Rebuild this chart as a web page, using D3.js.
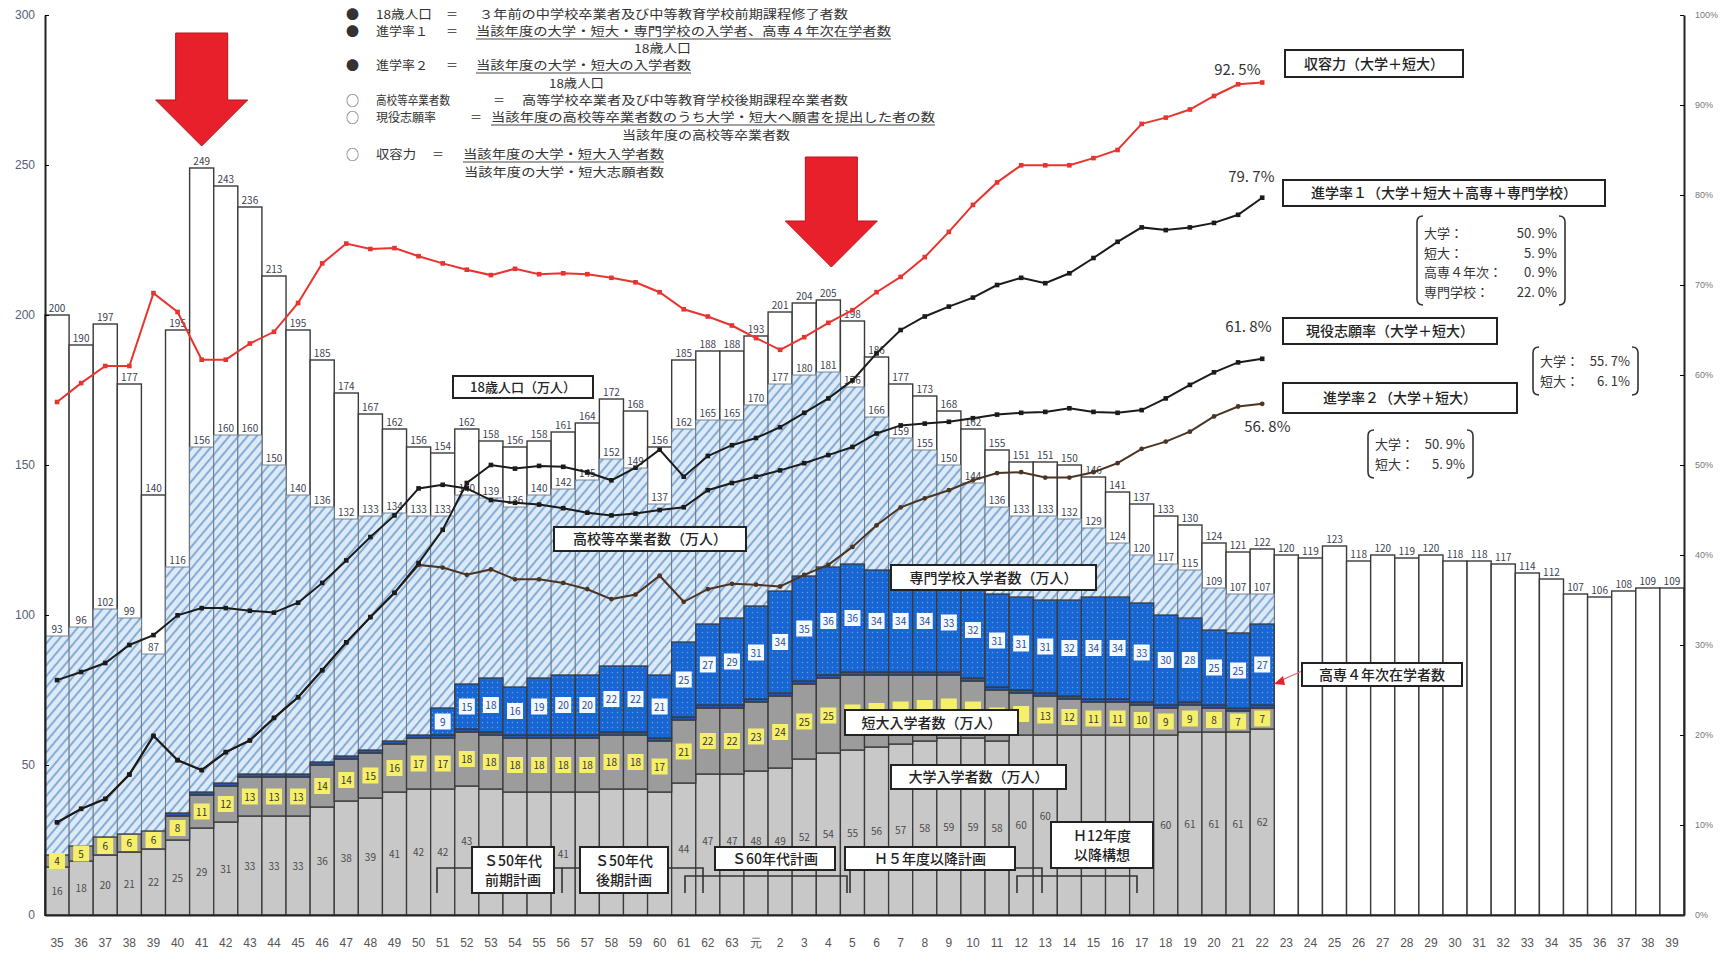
<!DOCTYPE html>
<html lang="ja">
<head>
<meta charset="utf-8">
<script src="https://cdn.jsdelivr.net/npm/d3@7"></script>
<style>
  html, body { margin: 0; padding: 0; background: #fff; }
  svg { display: block; font-family: "Noto Sans CJK JP", "Noto Sans", sans-serif; }
</style>
</head>
<body>
<div id="chart"></div>
<script>
// year labels (昭和35 ... 平成39)
var yearLabels = ["35","36","37","38","39","40","41","42","43","44","45","46","47","48","49","50",
  "51","52","53","54","55","56","57","58","59","60","61","62","63","元",
  "2","3","4","5","6","7","8","9","10","11","12","13","14","15","16","17","18","19","20","21","22",
  "23","24","25","26","27","28","29","30","31","32","33","34","35","36","37","38","39"];

// 18歳人口 (万人)
var pop18 = [200,190,197,177,140,195,249,243,236,213,195,185,174,167,162,156,
  154,162,158,156,158,161,164,172,168,156,185,188,188,193,
  201,204,205,198,186,177,173,168,162,155,151,151,150,146,141,137,133,130,124,121,122,
  120,119,123,118,120,119,120,118,118,117,114,112,107,106,108,109,109];

// 高校等卒業者数 (万人) S35-H22
var hsGrad = [93,96,102,99,87,116,156,160,160,150,140,136,132,133,134,133,
  133,140,139,136,140,142,145,152,149,137,162,165,165,170,
  177,180,181,176,166,159,155,150,144,136,133,133,132,129,124,120,117,115,109,107,107];

// 大学入学者数 (万人)
var univ = [16,18,20,21,22,25,29,31,33,33,33,36,38,39,41,42,
  42,43,42,41,41,41,41,42,42,41,44,47,47,48,
  49,52,54,55,56,57,58,59,59,58,60,60,60,60,60,60,60,61,61,61,62];

// 短大入学者数 (万人)
var juniorCollege = [4,5,6,6,6,8,11,12,13,13,13,14,14,15,16,17,
  17,18,18,18,18,18,18,18,18,17,21,22,22,23,
  24,25,25,25,24,23,22,21,19,17,14,13,12,11,11,10,9,9,8,7,7];

// 高専4年次在学者数 (万人)
var kosen4 = [0,0,0,0,0,1,1,1,1,1,1,1,1,1,1,1,
  1,1,1,1,1,1,1,1,1,1,1,1,1,1,
  1,1,1,1,1,1,1,1,1,1,1,1,1,1,1,1,1,1,1,1,1];

// 専門学校入学者数 (万人)
var senmon = [0,0,0,0,0,0,0,0,0,0,0,0,0,0,0,0,
  9,15,18,16,19,20,20,22,22,21,25,27,29,31,
  34,35,36,36,34,34,34,33,32,31,31,31,32,34,34,33,30,28,25,25,27];

// 収容力 (%)
var capacityRate = [57.0,59.1,61.0,61.0,69.1,67.0,61.7,61.7,63.5,64.8,68.0,72.4,74.6,74.0,74.1,73.2,
  72.4,71.7,71.1,71.8,71.2,71.3,71.2,70.8,70.3,69.2,67.3,66.5,65.5,64.1,
  62.8,64.2,65.8,67.2,69.2,70.9,73.1,75.9,78.9,81.4,83.3,83.3,83.3,84.1,85.0,87.9,88.6,89.5,91.0,92.3,92.5];

// 進学率1 (%)
var rate1 = [10.3,11.8,12.9,15.6,19.9,17.2,16.1,18.1,19.4,21.9,24.2,27.2,30.3,33.1,35.8,39.1,
  42.8,48.0,50.0,49.6,49.9,49.8,49.2,48.3,49.7,51.7,48.7,51.0,52.2,53.0,
  54.2,55.8,57.4,59.4,62.4,65.0,66.5,67.6,68.6,70.0,70.8,70.2,71.3,73.0,74.8,76.4,76.1,76.4,76.9,77.8,79.7];

// 現役志願率 (%)
var appRate = [26.1,27.0,28.0,30.0,31.1,33.3,34.1,34.1,33.8,33.6,34.7,36.9,39.4,42.0,44.4,47.4,
  47.8,47.4,46.1,45.8,45.6,45.2,44.7,44.4,44.6,45.0,45.3,47.2,48.0,48.7,
  49.4,50.2,51.1,52.0,53.5,54.4,54.6,54.8,55.2,55.6,55.8,55.9,56.3,55.9,55.8,56.1,57.4,58.9,60.3,61.4,61.8];

// 進学率2 (%) - runs under 進学率1 until S50
var rate2 = [10.3,11.8,12.9,15.6,19.9,17.2,16.1,18.1,19.4,21.9,24.2,27.2,30.3,33.1,35.8,38.9,
  38.6,37.8,38.4,37.3,37.3,36.9,36.2,35.1,35.6,37.7,34.8,36.2,36.8,36.7,
  36.5,37.8,38.9,40.9,43.3,45.3,46.3,47.2,48.3,49.1,49.2,48.6,48.6,49.2,50.2,51.8,52.6,53.7,55.4,56.5,56.8];

var leftTicks = [0,50,100,150,200,250,300];
var rightTicks = [0,10,20,30,40,50,60,70,80,90,100];

var width = 1720, height = 959;
var plot = {left: 45, right: 1684, top: 15, bottom: 915};

// annotation boxes (drawn last, also used to skip hidden labels)
var boxes = [
  {x: 1285, y: 50, w: 178, h: 27, lines: ["収容力（大学＋短大）"], fs: 14},
  {x: 1283, y: 180, w: 322, h: 26, lines: ["進学率１（大学＋短大＋高専＋専門学校）"], fs: 14},
  {x: 1283, y: 318, w: 214, h: 26, lines: ["現役志願率（大学＋短大）"], fs: 14},
  {x: 1283, y: 383, w: 234, h: 30, lines: ["進学率２（大学＋短大）"], fs: 14},
  {x: 453, y: 376, w: 140, h: 22, lines: ["18歳人口（万人）"], fs: 13},
  {x: 554, y: 527, w: 192, h: 24, lines: ["高校等卒業者数（万人）"], fs: 14},
  {x: 891, y: 565, w: 205, h: 25, lines: ["専門学校入学者数（万人）"], fs: 14},
  {x: 845, y: 710, w: 173, h: 25, lines: ["短大入学者数（万人）"], fs: 14},
  {x: 891, y: 765, w: 175, h: 24, lines: ["大学入学者数（万人）"], fs: 14},
  {x: 472, y: 847, w: 82, h: 46, lines: ["Ｓ50年代", "前期計画"], fs: 14},
  {x: 580, y: 847, w: 88, h: 46, lines: ["Ｓ50年代", "後期計画"], fs: 14},
  {x: 715, y: 847, w: 120, h: 23, lines: ["Ｓ60年代計画"], fs: 14},
  {x: 845, y: 847, w: 170, h: 23, lines: ["Ｈ５年度以降計画"], fs: 14},
  {x: 1051, y: 822, w: 102, h: 46, lines: ["Ｈ12年度", "以降構想"], fs: 14},
  {x: 1302, y: 663, w: 160, h: 23, lines: ["高専４年次在学者数"], fs: 14}
];
var hidden = function(px, py, mx, my) {
  return boxes.some(function(b) {
    return px > b.x - mx && px < b.x + b.w + mx && py > b.y - my && py < b.y + b.h + my;
  });
};
// keep a label baseline just above any box whose top it would touch
var aboveBoxes = function(px, base) {
  boxes.forEach(function(b) {
    if (px > b.x - 8 && px < b.x + b.w + 8 && base > b.y - 2 && base - 9 < b.y + b.h) base = b.y - 2;
  });
  return base;
};

var svg = d3.select("#chart").append("svg")
    .attr("width", width)
    .attr("height", height);

var x = d3.scaleBand()
    .domain(d3.range(yearLabels.length))
    .range([plot.left, plot.right])
    .padding(0);
var bw = x.bandwidth();
var cx = function(i) { return x(i) + bw / 2; };

var y = d3.scaleLinear().domain([0, 300]).range([plot.bottom, plot.top]);
var yr = d3.scaleLinear().domain([0, 100]).range([plot.bottom, plot.top]);

// patterns
var defs = svg.append("defs");
var hatch = defs.append("pattern")
    .attr("id", "hatch")
    .attr("patternUnits", "userSpaceOnUse")
    .attr("width", 7).attr("height", 7)
    .attr("patternTransform", "rotate(40)");
hatch.append("rect").attr("width", 7).attr("height", 7).attr("fill", "#dce9f6");
hatch.append("line")
    .attr("x1", 1).attr("y1", 0).attr("x2", 1).attr("y2", 7)
    .attr("stroke", "#7ba6d4").attr("stroke-width", 1.8);

var dots = defs.append("pattern")
    .attr("id", "dots")
    .attr("patternUnits", "userSpaceOnUse")
    .attr("width", 5).attr("height", 5);
dots.append("rect").attr("width", 5).attr("height", 5).attr("fill", "#1866d2");
dots.append("circle").attr("cx", 2.5).attr("cy", 2.5).attr("r", 0.7).attr("fill", "#6e9fe6");

var chart = svg.append("g");

// 18歳人口 bars (white)
chart.selectAll("rect.pop")
    .data(d3.range(pop18.length))
    .join("rect")
    .attr("class", "pop")
    .attr("x", function(i) { return x(i); })
    .attr("y", function(i) { return y(pop18[i]); })
    .attr("width", bw)
    .attr("height", function(i) { return y(0) - y(pop18[i]); })
    .attr("fill", "#fff")
    .attr("stroke", "#3a3a3a")
    .attr("stroke-width", 1.4);

// 高校等卒業者数 (hatched)
chart.selectAll("rect.hs")
    .data(d3.range(hsGrad.length))
    .join("rect")
    .attr("class", "hs")
    .attr("x", function(i) { return x(i); })
    .attr("y", function(i) { return y(hsGrad[i]); })
    .attr("width", bw)
    .attr("height", function(i) { return y(0) - y(hsGrad[i]); })
    .attr("fill", "url(#hatch)")
    .attr("stroke", "#6a7a8a")
    .attr("stroke-width", 0.9);

// entrants stack
var stackRows = d3.range(univ.length).map(function(i) {
  return {i: i, univ: univ[i], jc: juniorCollege[i], kosen: kosen4[i], senmon: senmon[i]};
});
var keys = ["univ", "jc", "kosen", "senmon"];
var fills = {univ: "#c8c8c8", jc: "#9c9c9c", kosen: "#2458b0", senmon: "url(#dots)"};
var series = d3.stack().keys(keys)(stackRows);

chart.selectAll("g.layer")
    .data(series)
    .join("g")
    .attr("class", "layer")
    .attr("fill", function(s) { return fills[s.key]; })
    .selectAll("rect")
    .data(function(s) { return s.filter(function(d) { return d[1] > d[0]; }); })
    .join("rect")
    .attr("x", function(d) { return x(d.data.i); })
    .attr("y", function(d) { return y(d[1]); })
    .attr("width", bw)
    .attr("height", function(d) { return y(d[0]) - y(d[1]); })
    .attr("stroke", "#3a3a3a")
    .attr("stroke-width", 1.3);

// value labels
var lab = svg.append("g").attr("font-size", 10).attr("text-anchor", "middle");

lab.selectAll("text.pop")
    .data(d3.range(pop18.length))
    .join("text")
    .attr("x", cx)
    .attr("y", function(i) { return y(pop18[i]) - 3; })
    .attr("fill", "#3b4250")
    .text(function(i) { return pop18[i]; });

lab.selectAll("text.hs")
    .data(d3.range(hsGrad.length))
    .join("text")
    .attr("x", cx)
    .attr("y", function(i) { return y(hsGrad[i]) - 3; })
    .attr("fill", "#3b4250")
    .text(function(i) { return hsGrad[i]; });

var univMid = function(i) { return y(univ[i] / 2); };
lab.selectAll("text.univ")
    .data(d3.range(univ.length).filter(function(i) { return !hidden(cx(i), univMid(i), 0, -2); }))
    .join("text")
    .attr("x", cx)
    .attr("y", function(i) { return aboveBoxes(cx(i), univMid(i) + 4); })
    .attr("fill", "#4a4a4a")
    .text(function(i) { return univ[i]; });

// 短大 yellow boxes
var jcMid = function(i) { return y(univ[i] + juniorCollege[i] / 2); };
lab.selectAll("rect.jc")
    .data(d3.range(juniorCollege.length))
    .join("rect")
    .attr("x", function(i) { return cx(i) - 8; })
    .attr("y", function(i) { return jcMid(i) - 8; })
    .attr("width", 16).attr("height", 16)
    .attr("fill", "#f6ef6c");
lab.selectAll("text.jc")
    .data(d3.range(juniorCollege.length).filter(function(i) { return !hidden(cx(i), jcMid(i), 6, 4); }))
    .join("text")
    .attr("x", cx)
    .attr("y", function(i) { return jcMid(i) + 4; })
    .attr("fill", "#333")
    .text(function(i) { return juniorCollege[i]; });

// 専門学校 white boxes
var smIdx = d3.range(senmon.length).filter(function(i) { return senmon[i] > 0; });
var smMid = function(i) { return y(univ[i] + juniorCollege[i] + kosen4[i] + senmon[i] / 2); };
lab.selectAll("rect.sm")
    .data(smIdx)
    .join("rect")
    .attr("x", function(i) { return cx(i) - 8; })
    .attr("y", function(i) { return smMid(i) - 8; })
    .attr("width", 16).attr("height", 16)
    .attr("fill", "#f4f8ff");
lab.selectAll("text.sm")
    .data(smIdx)
    .join("text")
    .attr("x", cx)
    .attr("y", function(i) { return smMid(i) + 4; })
    .attr("fill", "#1d4d9c")
    .text(function(i) { return senmon[i]; });

// axes
var axisLeft = svg.append("g")
    .attr("transform", "translate(" + plot.left + ",0)")
    .call(d3.axisLeft(y).tickValues(leftTicks).tickSizeInner(-4).tickSizeOuter(0).tickPadding(10));
axisLeft.select(".domain").attr("stroke", "#222").attr("stroke-width", 2);
axisLeft.selectAll("text").attr("font-size", 12).attr("fill", "#56607a");

var axisRight = svg.append("g")
    .attr("transform", "translate(" + plot.right + ",0)")
    .call(d3.axisRight(yr).tickValues(rightTicks).tickFormat(function(d) { return d + "%"; })
      .tickSizeInner(-4).tickSizeOuter(0).tickPadding(11));
axisRight.select(".domain").attr("stroke", "#222").attr("stroke-width", 2);
axisRight.selectAll("text").attr("font-size", 9).attr("fill", "#777");

var axisBottom = svg.append("g")
    .attr("transform", "translate(0," + plot.bottom + ")")
    .call(d3.axisBottom(x).tickFormat(function(i) { return yearLabels[i]; }).tickSize(0).tickPadding(23));
axisBottom.select(".domain").attr("stroke", "#222").attr("stroke-width", 2);
axisBottom.selectAll("text").attr("font-size", 12).attr("fill", "#555");

// rate lines
var lineGen = function(vals) {
  return d3.line().x(function(d, i) { return cx(i); }).y(function(d) { return yr(d); })(vals);
};
var rateSeries = [
  {vals: rate2, color: "#4a3424", marker: "circle"},
  {vals: appRate, color: "#1b1b1b", marker: "square"},
  {vals: rate1, color: "#1b1b1b", marker: "square"},
  {vals: capacityRate, color: "#e8342f", marker: "square"}
];
var lines = svg.append("g");
rateSeries.forEach(function(s) {
  lines.append("path")
      .attr("d", lineGen(s.vals))
      .attr("fill", "none")
      .attr("stroke", s.color)
      .attr("stroke-width", 2);
  var m = lines.append("g").attr("fill", s.color);
  if (s.marker === "circle") {
    m.selectAll("circle").data(s.vals).join("circle")
        .attr("cx", function(d, i) { return cx(i); })
        .attr("cy", function(d) { return yr(d); })
        .attr("r", 2.4);
  } else {
    m.selectAll("rect").data(s.vals).join("rect")
        .attr("x", function(d, i) { return cx(i) - 2.3; })
        .attr("y", function(d) { return yr(d) - 2.3; })
        .attr("width", 4.6).attr("height", 4.6);
  }
});

// end values
var last = rate1.length - 1;
var endLabels = [
  {text: "92. 5%", v: capacityRate[last], dx: -48, dy: -8},
  {text: "79. 7%", v: rate1[last], dx: -34, dy: -16},
  {text: "61. 8%", v: appRate[last], dx: -37, dy: -27},
  {text: "56. 8%", v: rate2[last], dx: -18, dy: 28}
];
svg.append("g").selectAll("text")
    .data(endLabels)
    .join("text")
    .attr("x", function(d) { return cx(last) + d.dx; })
    .attr("y", function(d) { return yr(d.v) + d.dy; })
    .attr("font-size", 15)
    .attr("fill", "#333")
    .text(function(d) { return d.text; });

// red arrows
var arrow = function(xc, tip, top) {
  var sw = 26, hw = 46, hh = 46;
  return [[xc - sw, top], [xc + sw, top], [xc + sw, tip - hh], [xc + hw, tip - hh], [xc, tip],
          [xc - hw, tip - hh], [xc - sw, tip - hh]];
};
var arrows = [
  arrow(cx(6), y(pop18[6]) - 22, 33),
  arrow(cx(32) + 3, y(pop18[32]) - 33, 157)
];
svg.append("g").selectAll("polygon")
    .data(arrows)
    .join("polygon")
    .attr("points", function(p) { return p.join(" "); })
    .attr("fill", "#e8202b")
    .attr("stroke", "#b5121c")
    .attr("stroke-width", 1);

// plan brackets
var planBrackets = [
  [[437,893],[437,868],[562,868],[562,893]],
  [[562,868],[703,868],[703,893]],
  [[685,893],[685,876],[847,876],[847,893]],
  [[850,893],[850,868],[1042,868],[1042,893]],
  [[1017,893],[1017,876],[1137,876],[1137,893]]
];
svg.append("g").selectAll("path")
    .data(planBrackets)
    .join("path")
    .attr("d", function(p) { return d3.line()(p); })
    .attr("fill", "none")
    .attr("stroke", "#333")
    .attr("stroke-width", 1.6);

// pointer to 高専4年次
svg.append("line")
    .attr("x1", 1302).attr("y1", 671).attr("x2", 1280).attr("y2", 681)
    .attr("stroke", "#e8606a").attr("stroke-width", 1.2);
svg.append("polygon")
    .attr("points", "1274,684 1283,676 1285,685")
    .attr("fill", "#e8202b");

var bg = svg.append("g").selectAll("g")
    .data(boxes)
    .join("g");
bg.append("rect")
    .attr("x", function(d) { return d.x; })
    .attr("y", function(d) { return d.y; })
    .attr("width", function(d) { return d.w; })
    .attr("height", function(d) { return d.h; })
    .attr("fill", "#fff")
    .attr("stroke", "#222")
    .attr("stroke-width", 2);
bg.each(function(d) {
  var n = d.lines.length;
  d3.select(this).selectAll("text")
      .data(d.lines)
      .join("text")
      .attr("x", d.x + d.w / 2)
      .attr("y", function(t, k) { return d.y + d.h / 2 + (k - (n - 1) / 2) * 19 + d.fs * 0.36; })
      .attr("text-anchor", "middle")
      .attr("font-size", d.fs)
      .attr("font-weight", 500)
      .attr("fill", "#222")
      .text(function(t) { return t; });
});

// bracketed breakdowns
var breakdowns = [
  {x0: 1417, x1: 1565, y0: 216, y1: 305, rows: [["大学：", "50. 9%"], ["短大：", "5. 9%"], ["高専４年次：", "0. 9%"], ["専門学校：", "22. 0%"]], top: 238},
  {x0: 1533, x1: 1638, y0: 347, y1: 395, rows: [["大学：", "55. 7%"], ["短大：", "6. 1%"]], top: 366},
  {x0: 1368, x1: 1473, y0: 430, y1: 478, rows: [["大学：", "50. 9%"], ["短大：", "5. 9%"]], top: 449}
];
var bk = svg.append("g").selectAll("g").data(breakdowns).join("g");
bk.append("path")
    .attr("d", function(d) {
      return "M" + (d.x0 + 6) + "," + d.y0 + "Q" + d.x0 + "," + d.y0 + " " + d.x0 + "," + (d.y0 + 6) +
        "V" + (d.y1 - 6) + "Q" + d.x0 + "," + d.y1 + " " + (d.x0 + 6) + "," + d.y1 +
        "M" + (d.x1 - 6) + "," + d.y0 + "Q" + d.x1 + "," + d.y0 + " " + d.x1 + "," + (d.y0 + 6) +
        "V" + (d.y1 - 6) + "Q" + d.x1 + "," + d.y1 + " " + (d.x1 - 6) + "," + d.y1;
    })
    .attr("fill", "none")
    .attr("stroke", "#333")
    .attr("stroke-width", 1.6);
bk.each(function(d) {
  var g = d3.select(this);
  d.rows.forEach(function(r, k) {
    g.append("text").attr("x", d.x0 + 7).attr("y", d.top + k * 19.5)
        .attr("font-size", 13).attr("fill", "#333").text(r[0]);
    g.append("text").attr("x", d.x1 - 8).attr("y", d.top + k * 19.5)
        .attr("text-anchor", "end").attr("font-size", 13).attr("fill", "#333").text(r[1]);
  });
});

// definitions legend at the top
var legendRows = [
  {mark: "●", name: "18歳人口", nw: 56, eq: 446, rhs: "３年前の中学校卒業者及び中等教育学校前期課程修了者数", rx: 479, rw: 369, y: 19},
  {mark: "●", name: "進学率１", nw: 52, eq: 446, rhs: "当該年度の大学・短大・専門学校の入学者、高専４年次在学者数", rx: 476, rw: 415, y: 36, ul: true},
  {rhs: "18歳人口", rx: 634, rw: 57, y: 53},
  {mark: "●", name: "進学率２", nw: 52, eq: 446, rhs: "当該年度の大学・短大の入学者数", rx: 476, rw: 215, y: 70, ul: true},
  {rhs: "18歳人口", rx: 549, rw: 55, y: 88},
  {mark: "○", name: "高校等卒業者数", nw: 74, eq: 493, rhs: "高等学校卒業者及び中等教育学校後期課程卒業者数", rx: 522, rw: 326, y: 105},
  {mark: "○", name: "現役志願率", nw: 60, eq: 470, rhs: "当該年度の高校等卒業者数のうち大学・短大へ願書を提出した者の数", rx: 491, rw: 444, y: 122, ul: true},
  {rhs: "当該年度の高校等卒業者数", rx: 622, rw: 168, y: 140},
  {mark: "○", name: "収容力", nw: 40, eq: 432, rhs: "当該年度の大学・短大入学者数", rx: 463, rw: 201, y: 159, ul: true},
  {rhs: "当該年度の大学・短大志願者数", rx: 464, rw: 200, y: 177}
];
var lg = svg.append("g").attr("font-size", 12).attr("fill", "#333");
legendRows.forEach(function(r) {
  if (r.mark) {
    lg.append("text").attr("x", 346).attr("y", r.y).attr("font-size", 13).text(r.mark);
    lg.append("text").attr("x", 376).attr("y", r.y)
        .attr("textLength", r.nw).attr("lengthAdjust", "spacingAndGlyphs").text(r.name);
    lg.append("text").attr("x", r.eq).attr("y", r.y).text("＝");
  }
  lg.append("text").attr("x", r.rx).attr("y", r.y)
      .attr("textLength", r.rw).attr("lengthAdjust", "spacingAndGlyphs")
      .text(r.rhs);
  if (r.ul) {
    lg.append("line").attr("x1", r.rx).attr("x2", r.rx + r.rw)
        .attr("y1", r.y + 3).attr("y2", r.y + 3)
        .attr("stroke", "#444").attr("stroke-width", 1);
  }
});
</script>
</body>
</html>
